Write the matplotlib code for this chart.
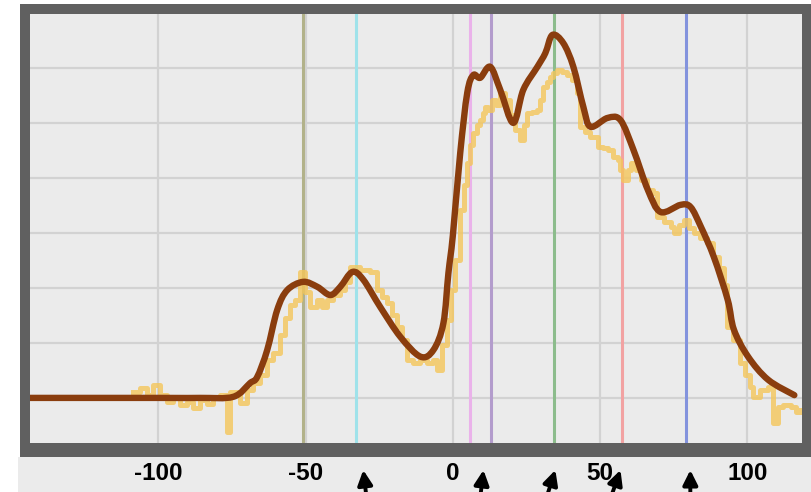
import numpy as np
import matplotlib
matplotlib.use("Agg")
import matplotlib.pyplot as plt
from matplotlib.patches import Rectangle, PathPatch
from matplotlib.path import Path

# ---------------- data ----------------
smooth_x = [-143.5, -100, -85.7, -74.5, -68.8, -66.4, -63.0, -59.6, -56.2, -50.8, -46.0, -41.6,
            -38.2, -34.1, -30.4, -24.6, -17.8, -11.0, -6.6, -3.2, -1.5, 0.0, 2.5, 4.9, 6.96,
            9.3, 12.7, 16.1, 20.5, 23.9, 28.7, 31.4, 33.8, 37.5, 40.9, 44.3, 46.7, 52.5, 56.9,
            61.3, 66.2, 70.5, 77.3, 80.7, 84.2, 88.6, 93.3, 95.4, 100.2, 107.0, 115.9]
smooth_y = [0.0, 0.0, 0.0, 0.2, 2.7, 3.8, 8.7, 16.0, 19.6, 21.1, 20.2, 18.7,
            20.2, 22.9, 21.5, 16.5, 11.1, 7.5, 8.7, 13.6, 22.7, 29.5, 44.5, 55.5, 58.7,
            58.2, 60.2, 56.0, 50.0, 56.0, 60.2, 62.7, 66.0, 64.5, 60.2, 52.9, 49.3, 50.9, 50.5,
            45.1, 37.8, 33.8, 35.1, 34.7, 31.1, 25.6, 17.8, 12.4, 7.5, 3.3, 0.5]

step_x = [-108.5, -106.1, -103.7, -101.7, -99.3, -97.0, -94.9, -92.5, -90.2, -88.1, -85.7, -83.4,
          -81.3, -78.9, -76.6, -75.5, -72.2, -69.8, -67.7, -65.4, -63.0, -61.0, -58.6, -56.9,
          -55.3, -53.6, -51.8, -50.1, -48.4, -46.0, -44.3, -42.6, -40.6, -38.2, -36.5, -34.8,
          -31.4, -28.0, -25.6, -23.9, -22.2, -20.5, -18.8, -17.1, -15.4, -13.4, -11.0, -8.7,
          -6.6, -5.3, -3.6, -1.9, -0.5, 0.8, 2.5, 3.9, 4.9, 5.9, 7.0, 8.3, 9.3, 10.4, 11.0,
          12.1, 13.4, 14.8, 16.1, 17.8, 19.5, 21.2, 22.9, 24.3, 25.3, 27.0, 28.7, 29.7, 30.7,
          32.1, 33.1, 34.1, 35.5, 37.2, 38.9, 40.6, 42.3, 43.3, 45.0, 46.7, 49.1, 50.8, 52.5,
          54.2, 55.9, 56.9, 57.9, 59.3, 60.3, 62.0, 63.7, 66.0, 68.1, 69.4, 71.5, 73.9, 74.9,
          76.6, 78.3, 80.0, 81.7, 84.0, 86.4, 88.4, 90.2, 91.9, 93.2, 95.2, 97.6, 99.3, 101.0,
          102.0, 104.4, 106.8, 108.8, 110.2, 112.2, 114.6, 116.3, 118.0]
step_y = [1.1, 1.8, 0.5, 2.4, 0.5, -0.7, 0.0, -1.3, -0.7, -1.8, -0.4, -1.1,
          0.0, 0.5, -6.2, 1.1, -0.9, 1.5, 2.7, 4.2, 6.9, 8.2, 11.5, 14.5,
          16.9, 17.8, 22.9, 19.3, 16.5, 17.8, 16.5, 17.8, 18.7, 19.6, 21.1, 23.8,
          23.3, 22.9, 19.6, 18.4, 17.3, 15.1, 12.9, 10.5, 6.9, 6.4, 6.9, 6.4,
          6.9, 5.1, 9.6, 14.2, 19.6, 25.1, 34.2, 38.7, 42.7, 46.0, 48.2, 49.6, 50.5, 51.8, 52.9,
          52.4, 54.2, 53.3, 55.5, 54.2, 51.5, 48.7, 46.9, 49.6, 51.8, 52.0, 52.4, 54.2, 56.5,
          57.5, 58.4, 59.1, 59.6, 59.3, 58.7, 57.8, 55.5, 49.3, 48.4, 47.5, 45.6, 45.5, 45.1,
          43.8, 43.3, 41.5, 39.6, 41.5, 42.7, 41.5, 39.6, 37.8, 37.3, 32.9, 32.0, 31.1, 30.0,
          31.5, 32.4, 30.9, 30.0, 29.1, 28.2, 25.6, 23.6, 20.5, 12.9, 10.5, 6.4, 4.2, 2.0,
          0.2, 1.5, 2.0, -4.5, -1.6, -1.3, -1.6, -2.5, -2.2]

marker_x = [-50.8, -32.7, 5.8, 13.0, 34.2, 57.5, 79.3]
marker_colors = ["#b2b28a", "#9fe2ea", "#eab2ea", "#b39ccc", "#8cbc8c", "#f2a2a2", "#8393dd"]

tick_values = [-100, -50, 0, 50, 100]
tick_labels = ["-100", "-50", "0", "50", "100"]

arrow_x = [-30.4, 10.4, 34.8, 56.9, 80.6]
arrow_tail_dx = [4, -4, -11, -12, 0]   # pixel offsets of arrow tails

# ---------------- figure ----------------
W, H = 811, 492
fig = plt.figure(figsize=(W / 100, H / 100), dpi=100)
fig.patch.set_facecolor("white")

# label strip and dark frame
fig.add_artist(Rectangle((18 / W, 0), 1, (H - 457) / H, transform=fig.transFigure,
                         facecolor="#ebebeb", edgecolor="none", zorder=0))
fig.add_artist(Rectangle((20 / W, (H - 457) / H), (W - 20) / W, (457 - 4) / H,
                         transform=fig.transFigure, facecolor="#606060",
                         edgecolor="none", zorder=0))

ax = fig.add_axes([30 / W, (H - 443) / H, (802 - 30) / W, (443 - 14) / H])
ax.set_facecolor("#ebebeb")
ax.set_xlim(-143.5, 118.5)
ax.set_ylim(-8.2, 69.8)

for s in ax.spines.values():
    s.set_visible(False)

ax.set_xticks(tick_values)
ax.set_xticklabels(tick_labels, fontfamily="Liberation Sans", fontweight="bold", fontsize=17.5)
ax.tick_params(axis="x", length=0, pad=13.5, colors="black")
ax.set_yticks(np.arange(0, 70, 10))
ax.set_yticklabels([])
ax.tick_params(axis="y", length=0)
ax.grid(True, color="#d2d2d2", linewidth=1.6, zorder=1)
ax.set_axisbelow(True)

# coloured vertical markers
for mx, mc in zip(marker_x, marker_colors):
    ax.axvline(mx, color=mc, linewidth=2.2, zorder=2)

# yellow step line
ax.step(step_x, step_y, where="post", color="#f4c65a", linewidth=3.6, alpha=0.8,
        solid_joinstyle="round", zorder=3)

# smooth brown curve (Catmull-Rom through the read points)
P = np.column_stack([smooth_x, smooth_y])
verts = [P[0]]
codes = [Path.MOVETO]
n = len(P)
for i in range(n - 1):
    p0 = P[i - 1] if i > 0 else P[i]
    p1 = P[i]
    p2 = P[i + 1]
    p3 = P[i + 2] if i + 2 < n else P[i + 1]
    c1 = p1 + (p2 - p0) / 6.0
    c2 = p2 - (p3 - p1) / 6.0
    verts += [c1, c2, p2]
    codes += [Path.CURVE4] * 3
ax.add_patch(PathPatch(Path(verts, codes), facecolor="none", edgecolor="#8a3d0e",
                       linewidth=4.6, capstyle="round", joinstyle="round", zorder=4))

# arrows under the axis
for axx, dx in zip(arrow_x, arrow_tail_dx):
    ax.annotate("", xy=(axx, -0.063), xycoords=("data", "axes fraction"),
                xytext=(dx, -34), textcoords="offset pixels",
                arrowprops=dict(arrowstyle="-|>", color="black", lw=2.8,
                                mutation_scale=22, shrinkA=0, shrinkB=0),
                annotation_clip=False)

fig.savefig("out.png", dpi=100, facecolor=fig.get_facecolor())
